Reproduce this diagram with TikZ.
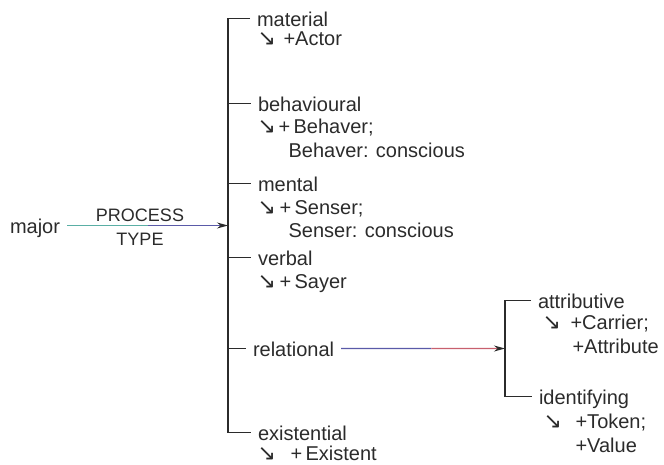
\documentclass[tikz,border=0pt]{standalone}
\usepackage{fontspec}
\setmainfont{Liberation Sans}
\newfontfamily\arrfont{DejaVu Sans}
\usepackage{xcolor}
\usepackage{tikz}
\usetikzlibrary{arrows.meta, positioning, calc}

\definecolor{ink}{HTML}{2B2B2B}
\definecolor{tealline}{HTML}{5AAFA5}
\definecolor{blueline}{HTML}{5A5AA8}
\definecolor{redline}{HTML}{C8606E}
\newcommand{\sarr}{{\arrfont\fontsize{22}{22}\selectfont ↘}}

\begin{document}
\begin{tikzpicture}[x=1pt, y=-1pt, line width=1.1pt, color=ink,
  font=\fontsize{20}{24}\selectfont,
  lbl/.style={anchor=base west, inner sep=0pt, outer xsep=7pt, text height=15pt, text depth=0pt},
  sub/.style={anchor=base west, inner sep=0pt},
  caps/.style={anchor=base, inner sep=0pt, font=\fontsize{18}{20}\selectfont},
  tip/.style={-{Stealth[length=11pt, width=6pt, color=ink]}}]
\useasboundingbox (0,0) rectangle (664,464);

% PROCESS TYPE entry
\draw (3,233) node[lbl] (major) {major};
\draw (140,221) node[caps] (proc) {PROCESS};
\draw (140,245) node[caps] (ptype) {TYPE};
\coordinate (brk) at (228,0);
\coordinate (mid1) at ($(major.east)!0.5!(major.east -| brk)$);
\draw[tealline] (major.east) -- (mid1);
\draw[blueline, tip] (mid1) -- (major.east -| brk);

% process types
\draw (250,26) node[lbl] (mat) {material};
\draw (251,111) node[lbl] (beh) {behavioural};
\draw (251,191) node[lbl] (men) {mental};
\draw (251,265) node[lbl] (verb) {verbal};
\draw (246,356) node[lbl] (rel) {relational};
\draw (251,440) node[lbl] (ext) {existential};
\draw (mat.west) -- (mat.west -| brk) -- (ext.west -| brk) -- (ext.west);
\foreach \n in {beh, men, verb, rel}
  \draw (\n.west -| brk) -- (\n.west);

% realisations
\draw (257,45) node[sub] (matarr) {\sarr};
\draw (283,45) node[sub] (actor) {+Actor};
\draw (257,133) node[sub] (beharr) {\sarr};
\draw (278,133) node[sub] (behaver) {+\,Behaver;};
\draw (288,157) node[sub] (behcons) {Behaver: conscious};
\draw (257,214) node[sub] (menarr) {\sarr};
\draw (279,214) node[sub] (senser) {+\,Senser;};
\draw (288,237) node[sub] (mencons) {Senser: conscious};
\draw (257,288) node[sub] (verbarr) {\sarr};
\draw (279,288) node[sub] (sayer) {+\,Sayer};
\draw (257,460) node[sub] (extarr) {\sarr};
\draw (290,460) node[sub] (existent) {+\,Existent};

% relational subtypes
\coordinate (brkb) at (505,0);
\coordinate (mid2) at ($(rel.east)!0.55!(rel.east -| brkb)$);
\draw[blueline] (rel.east) -- (mid2);
\draw[redline, tip] (mid2) -- (rel.east -| brkb);
\draw (531,308) node[lbl] (attr) {attributive};
\draw (532,404) node[lbl] (iden) {identifying};
\draw (attr.west) -- (attr.west -| brkb) -- (iden.west -| brkb) -- (iden.west);
\draw (542,329) node[sub] (attrarr) {\sarr};
\draw (570,329) node[sub] (carrier) {+Carrier;};
\draw (572,353) node[sub] (attribute) {+Attribute};
\draw (543,428) node[sub] (idenarr) {\sarr};
\draw (575,428) node[sub] (token) {+Token;};
\draw (575,452) node[sub] (value) {+Value};
\end{tikzpicture}
\end{document}
